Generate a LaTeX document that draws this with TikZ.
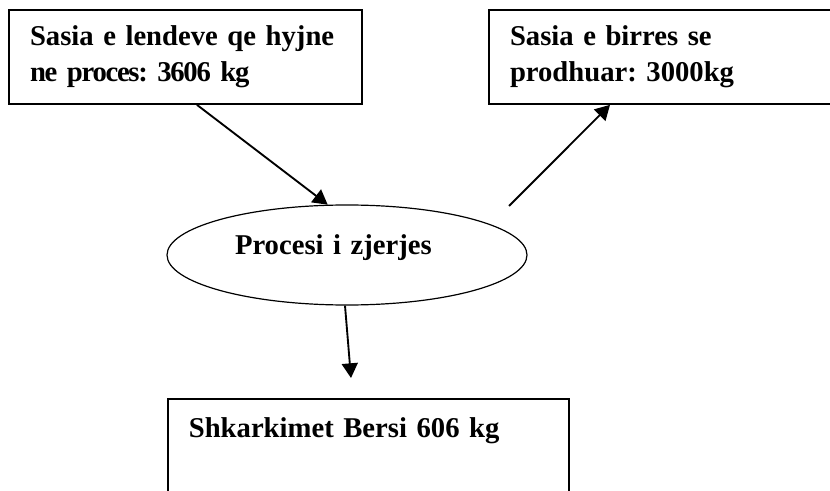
\documentclass[tikz,border=0pt]{standalone}
\usepackage{fontspec}
\setmainfont{Liberation Serif}
\frenchspacing
\usetikzlibrary{positioning,shapes.geometric,arrows.meta}
\tikzset{
  kuti/.style={draw, line width=1.3pt, align=left, inner xsep=15.75pt, inner ysep=0pt,
    font=\fontsize{21.5}{27}\selectfont\bfseries},
  proces/.style={draw, ellipse, line width=0.9pt, inner sep=0pt, minimum width=270pt,
    minimum height=75pt, align=left, text width=168pt, text height=15pt, text depth=15pt,
    font=\fontsize{21.5}{27}\selectfont\bfseries},
  rrjedh/.style={line width=1.4pt, -{Triangle[length=11pt, width=12pt]}},
}

\begin{document}
\begin{tikzpicture}[x=0.75pt, y=-0.75pt]
  \useasboundingbox (0,0) rectangle (830,491);
  \clip (0,0) rectangle (830,491);
  % kutite
  \node[kuti, text width=233.25pt, minimum height=70.5pt] (hyrje) at (185.5,57)
    {Sasia e lendeve qe hyjne\\{\addfontfeature{LetterSpace=-4.5}ne proces: 3606 kg}};
  \node[kuti, text width=228pt, minimum height=70.5pt] (birra) at (662,57)
    {Sasia e birres se\\prodhuar: 3000kg};
  \node[proces] (zjerje) at (347,255) {Procesi i zjerjes};
  \node[kuti, anchor=north west, text width=269.25pt, text height=29.25pt, text depth=75pt]
    (bersi) at (167,398) {Shkarkimet Bersi 606 kg};
  % shigjetat
  \coordinate (b1) at (509,206);
  \coordinate (s1) at (351,378);
  \draw[rrjedh] ([xshift=8.6pt]hyrje.south) -- (zjerje.111);
  \draw[rrjedh] (b1) -- ([xshift=-39pt]birra.south);
  \draw[rrjedh] ([xshift=-1.5pt]zjerje.south) -- (s1);
\end{tikzpicture}
\end{document}
